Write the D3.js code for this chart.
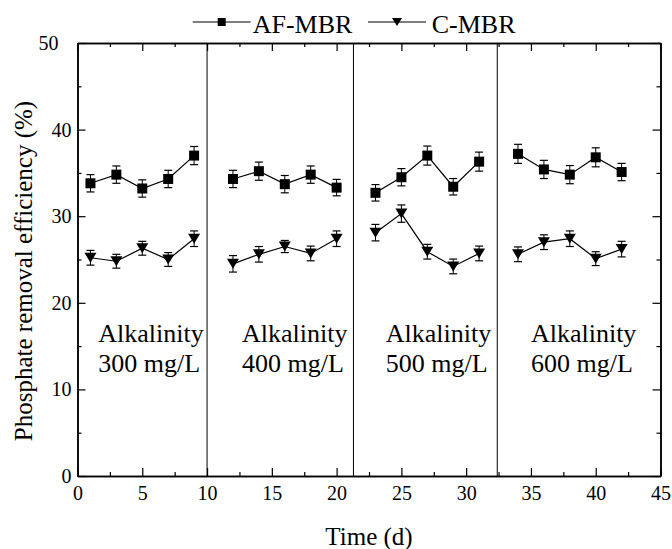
<!DOCTYPE html>
<html lang="en">
<head>
<meta charset="utf-8">
<title>Phosphate removal efficiency vs time</title>
<style>
  body { margin: 0; background: #fff; }
  text { font-family: 'Liberation Serif' !important; }
</style>
</head>
<body>
<div id="chart"></div>
<script src="https://cdn.jsdelivr.net/npm/d3@7"></script>
<script>

// sampling days for each alkalinity phase
var phaseDays = [[1, 3, 5, 7, 9], [12, 14, 16, 18, 20], [23, 25, 27, 29, 31], [34, 36, 38, 40, 42]];

var afMean = [[33.8, 34.8, 33.2, 34.3, 37.0], [34.3, 35.2, 33.7, 34.8, 33.3], [32.7, 34.5, 37.0, 33.4, 36.3], [37.2, 35.4, 34.8, 36.8, 35.1]];
var afErr  = [[1.0, 1.0, 1.0, 1.0, 1.05], [1.0, 1.05, 1.0, 1.0, 0.95], [0.95, 1.0, 1.1, 0.95, 1.1], [1.1, 1.05, 1.05, 1.1, 1.0]];

var cMean = [[25.2, 24.8, 26.3, 25.0, 27.4], [24.5, 25.6, 26.5, 25.7, 27.4], [28.1, 30.3, 25.9, 24.2, 25.7], [25.6, 27.0, 27.4, 25.1, 26.2]];
var cErr  = [[0.85, 0.8, 0.8, 0.8, 0.9], [0.95, 0.9, 0.7, 0.85, 0.9], [0.95, 1.0, 0.85, 0.85, 0.85], [0.85, 0.85, 0.9, 0.8, 0.9]];

var phaseBounds = [10, 21.3, 32.4];
var phaseNames = ["300 mg/L", "400 mg/L", "500 mg/L", "600 mg/L"];
var phaseLabelDay = [1.6, 12.7, 23.8, 35.0];

var seriesNames = ["AF-MBR", "C-MBR"];
var xTicks = [0, 5, 10, 15, 20, 25, 30, 35, 40, 45];
var yTicks = [0, 10, 20, 30, 40, 50];

var FONT = "Liberation Serif";

var W = 672, H = 549,
    margin = {top: 43, right: 11.5, bottom: 73, left: 77.5},
    width = W - margin.left - margin.right,
    height = H - margin.top - margin.bottom;

var svg = d3.select("#chart").append("svg")
    .attr("width", W)
    .attr("height", H)
    .attr("font-family", FONT);

var plt = svg.append("g").attr("transform", "translate(" + margin.left + "," + margin.top + ")");

var x = d3.scaleLinear().domain([0, 45]).range([0, width]);
var y = d3.scaleLinear().domain([0, 50]).range([height, 0]);

var minorX = d3.range(2.5, 45, 5);
var minorY = d3.range(5, 50, 10);

// major + minor ticks, all pointing in
function styleAxis(g) {
  g.attr("font-family", FONT).attr("font-size", 20);
  g.select(".domain").attr("stroke", "#000").attr("stroke-width", 1.5);
  g.selectAll(".tick line").attr("stroke", "#000").attr("stroke-width", 1.2);
  g.selectAll(".tick text").attr("fill", "#000");
}

plt.append("g")
   .attr("transform", "translate(0," + height + ")")
   .call(d3.axisBottom(x).tickValues(xTicks).tickSize(-8).tickSizeOuter(0).tickPadding(10).tickFormat(d3.format("d")))
   .call(styleAxis);
plt.append("g")
   .attr("transform", "translate(0," + height + ")")
   .call(d3.axisBottom(x).tickValues(minorX).tickSize(-4).tickSizeOuter(0).tickFormat(""))
   .call(styleAxis);
plt.append("g")
   .call(d3.axisTop(x).tickValues(xTicks).tickSize(-8).tickSizeOuter(0).tickFormat(""))
   .call(styleAxis);
plt.append("g")
   .call(d3.axisTop(x).tickValues(minorX).tickSize(-4).tickSizeOuter(0).tickFormat(""))
   .call(styleAxis);

var yAxis = plt.append("g")
   .call(d3.axisLeft(y).tickValues(yTicks).tickSize(-8).tickSizeOuter(0).tickPadding(6).tickFormat(d3.format("d")))
   .call(styleAxis);
// top label sits further left in the original
yAxis.selectAll(".tick text").filter(function(d){ return d === 50; }).attr("dx", -13);

plt.append("g")
   .call(d3.axisLeft(y).tickValues(minorY).tickSize(-4).tickSizeOuter(0).tickFormat(""))
   .call(styleAxis);
plt.append("g")
   .attr("transform", "translate(" + width + ",0)")
   .call(d3.axisRight(y).tickValues(yTicks).tickSize(-8).tickSizeOuter(0).tickFormat(""))
   .call(styleAxis);
plt.append("g")
   .attr("transform", "translate(" + width + ",0)")
   .call(d3.axisRight(y).tickValues(minorY).tickSize(-4).tickSizeOuter(0).tickFormat(""))
   .call(styleAxis);

// phase separators
plt.selectAll("line.sep")
   .data(phaseBounds)
   .enter().append("line")
   .attr("class", "sep")
   .attr("x1", function(d){ return x(d); })
   .attr("x2", function(d){ return x(d); })
   .attr("y1", 0)
   .attr("y2", height)
   .attr("stroke", "#000")
   .attr("stroke-width", 1);

// phase labels
var phaseG = plt.selectAll("g.phase")
   .data(phaseNames)
   .enter().append("g")
   .attr("class", "phase")
   .attr("font-family", FONT)
   .attr("font-size", 26);
phaseG.append("text")
   .attr("x", function(d, i){ return x(phaseLabelDay[i]); })
   .attr("y", y(15.5))
   .text("Alkalinity");
phaseG.append("text")
   .attr("x", function(d, i){ return x(phaseLabelDay[i]); })
   .attr("y", y(12.0))
   .text(function(d){ return d; });

var squarePath = d3.symbol().type(d3.symbolSquare).size(100)();
var triPath = "M-6,-5L6,-5L0,5Z";

function buildPoints(means, errs) {
  return phaseDays.map(function(days, p) {
    return days.map(function(day, i) {
      return {day: day, v: means[p][i], e: errs[p][i]};
    });
  });
}

var series = [
  {name: seriesNames[0], groups: buildPoints(afMean, afErr), marker: squarePath},
  {name: seriesNames[1], groups: buildPoints(cMean, cErr), marker: triPath}
];

var line = d3.line().x(function(d){ return x(d.day); }).y(function(d){ return y(d.v); });

series.forEach(function(s) {
  var g = plt.append("g");
  s.groups.forEach(function(pts) {
    g.append("path")
     .datum(pts)
     .attr("d", line)
     .attr("fill", "none")
     .attr("stroke", "#000")
     .attr("stroke-width", 1.2);

    var eb = g.selectAll(null).data(pts).enter().append("g");
    eb.append("line")
      .attr("x1", function(d){ return x(d.day); })
      .attr("x2", function(d){ return x(d.day); })
      .attr("y1", function(d){ return y(d.v - d.e); })
      .attr("y2", function(d){ return y(d.v + d.e); })
      .attr("stroke", "#000").attr("stroke-width", 1);
    [-1, 1].forEach(function(sign) {
      eb.append("line")
        .attr("x1", function(d){ return x(d.day) - 4; })
        .attr("x2", function(d){ return x(d.day) + 4; })
        .attr("y1", function(d){ return y(d.v + sign * d.e); })
        .attr("y2", function(d){ return y(d.v + sign * d.e); })
        .attr("stroke", "#000").attr("stroke-width", 1.2);
    });

    g.selectAll(null).data(pts).enter().append("path")
     .attr("d", s.marker)
     .attr("transform", function(d){ return "translate(" + x(d.day) + "," + y(d.v) + ")"; })
     .attr("fill", "#000");
  });
});

// axis titles
svg.append("text")
   .attr("x", margin.left + width / 2)
   .attr("y", 545)
   .attr("text-anchor", "middle")
   .attr("font-family", FONT)
   .attr("font-size", 25)
   .text("Time (d)");

svg.append("text")
   .attr("transform", "translate(32," + 271 + ") rotate(-90)")
   .attr("text-anchor", "middle")
   .attr("font-family", FONT)
   .attr("font-size", 25)
   .text("Phosphate removal efficiency (%)");

// legend
var legendX = [192.7, 368];
var legend = svg.selectAll("g.legend")
   .data(series)
   .enter().append("g")
   .attr("class", "legend")
   .attr("transform", function(d, i){ return "translate(" + legendX[i] + ",22)"; });
legend.append("line")
   .attr("x1", 0).attr("x2", 58)
   .attr("y1", 0).attr("y2", 0)
   .attr("stroke", "#000").attr("stroke-width", 1.2);
legend.append("path")
   .attr("d", function(d, i){ return i === 0 ? d3.symbol().type(d3.symbolSquare).size(64)() : "M-5,-4L5,-4L0,4Z"; })
   .attr("transform", "translate(29,0)")
   .attr("fill", "#000");
legend.append("text")
   .attr("x", function(d, i){ return i === 0 ? 60 : 63.7; })
   .attr("y", 11)
   .attr("font-family", FONT)
   .attr("font-size", 26)
   .text(function(d){ return d.name; });

</script>
</body>
</html>
